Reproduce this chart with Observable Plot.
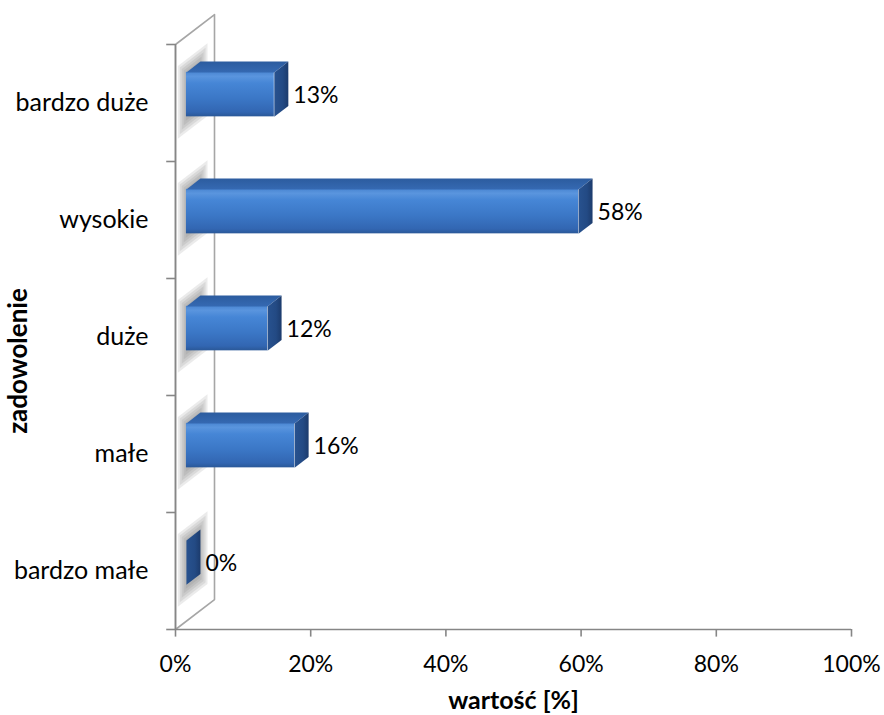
<!DOCTYPE html>
<html><head><meta charset="utf-8">
<script src="https://cdn.jsdelivr.net/npm/d3@7"></script>
<script src="https://cdn.jsdelivr.net/npm/@observablehq/plot@0.6"></script>
<style>html,body{margin:0;padding:0;background:#fff}</style>
</head><body><div id="chart"></div>
<script>
// categories bottom -> top
const categories = ["bardzo małe", "małe", "duże", "wysokie", "bardzo duże"];
const values = [0, 16, 12, 58, 13];
const xTicks = [0, 20, 40, 60, 80, 100];
const yTicks = [0, 1, 2, 3, 4, 5];
const xTitle = "wartość [%]";
const yTitle = "zadowolenie";

// oblique 3D projection (in data units)
const DX = 5.77, DY = 0.256;   // full depth offset
const D0 = 0.28, D1 = 0.64;    // bar front / back depth
const HALF = 0.19;             // half bar thickness
const P = (x, y, d, id) => ({x: x + d * DX, y: y + d * DY, id});

const bars = values.map((v, i) => ({v, c: i + 0.5, i}));
const front = bars.map(b => ({x1: D0 * DX, x2: b.v + D0 * DX, y1: b.c - HALF + D0 * DY, y2: b.c + HALF + D0 * DY}));
const topFace = bars.flatMap(b => [P(0, b.c + HALF, D0, b.i), P(b.v, b.c + HALF, D0, b.i), P(b.v, b.c + HALF, D1, b.i), P(0, b.c + HALF, D1, b.i)]);
const sideFace = bars.flatMap(b => [P(b.v, b.c - HALF, D0, b.i), P(b.v, b.c + HALF, D0, b.i), P(b.v, b.c + HALF, D1, b.i), P(b.v, b.c - HALF, D1, b.i)]);
// soft shadow on the side wall: stacked translucent layers
const layers = [0, 1, 2, 3, 4];
const shadow = bars.flatMap(b => layers.flatMap(k => {
  const e = k * 0.025, f = k * 0.05, id = b.i * 10 + k;
  return [P(0, b.c - 0.22 - e, 0.26 - f, id), P(0, b.c + 0.2 + e, 0.26 - f, id), P(0, b.c + 0.2 + e, 0.62 + f, id), P(0, b.c - 0.22 - e, 0.62 + f, id)];
}));
const wall = [P(0, 0, 0, 0), P(0, 5, 0, 0), P(0, 5, 1, 0), P(0, 0, 1, 0), P(0, 0, 0, 0)];

const FONT = "Lato, 'Open Sans', sans-serif";

const svg = Plot.plot({
  width: 884, height: 715,
  marginLeft: 175, marginRight: 33, marginTop: 44, marginBottom: 86,
  style: {fontFamily: FONT, fontSize: "23px", background: "#fff", color: "#000"},
  x: {domain: [0, 100], axis: null},
  y: {domain: [0, 5], axis: null},
  marks: [
    Plot.line(wall, {x: "x", y: "y", stroke: "#a6a6a6", strokeWidth: 1.6, fill: "none"}),
    Plot.line(shadow, {x: "x", y: "y", z: "id", fill: "#6e6e6e", fillOpacity: 0.14, stroke: "none"}),
    Plot.rect(front, {x1: "x1", x2: "x2", y1: "y1", y2: "y2", fill: "url(#gFront)"}),
    Plot.line(topFace, {x: "x", y: "y", z: "id", fill: "url(#gTop)", stroke: "none"}),
    Plot.line(sideFace, {x: "x", y: "y", z: "id", fill: "url(#gSide)", stroke: "none"}),
    // axes
    Plot.ruleX([0], {y1: 0, y2: 5, stroke: "#868686", strokeWidth: 1.6}),
    Plot.ruleY([0], {x1: 0, x2: 100, stroke: "#868686", strokeWidth: 1.6}),
    Plot.ruleY(yTicks, {y: d => d, x1: -1.3, x2: 0, stroke: "#868686", strokeWidth: 1.6}),
    Plot.ruleX(xTicks, {x: d => d, y1: 0, y2: -0.065, stroke: "#868686", strokeWidth: 1.6}),
    Plot.text(xTicks, {x: d => d, y: 0, dy: 35, text: d => `${d}%`, fill: "#000"}),
    Plot.text(categories, {x: 0, y: (d, i) => i + 0.5, dx: -27, text: d => d, textAnchor: "end", fontSize: 25, fill: "#000"}),
    Plot.text(values, {x: v => v + D1 * DX, y: (d, i) => i + 0.5 + D0 * DY, dx: 5, dy: 1, text: v => `${v}%`, textAnchor: "start", fill: "#000"}),
    Plot.text([xTitle], {frameAnchor: "bottom", dy: 71, text: d => d, textAnchor: "middle", lineAnchor: "middle", fontWeight: "bold", fontSize: 25, fill: "#000"}),
    Plot.text([yTitle], {frameAnchor: "left", dx: -157, dy: 24, rotate: -90, text: d => d, textAnchor: "middle", lineAnchor: "middle", fontWeight: "bold", fontSize: 26, fill: "#000"})
  ]
});

const s = d3.select(svg);
const defs = s.insert("defs", ":first-child");
const gf = defs.append("linearGradient").attr("id", "gFront").attr("x1", 0).attr("y1", 0).attr("x2", 0).attr("y2", 1);
[[0, "#4a86d2"], [0.1, "#5a95de"], [0.25, "#4686d6"], [0.6, "#3b77c6"], [0.9, "#3266b2"], [1, "#2a5898"]]
  .forEach(([o, c]) => gf.append("stop").attr("offset", o).attr("stop-color", c));
const gt = defs.append("linearGradient").attr("id", "gTop").attr("x1", 0).attr("y1", 0).attr("x2", 0).attr("y2", 1);
[[0, "#2c5c9f"], [1, "#3569b2"]].forEach(([o, c]) => gt.append("stop").attr("offset", o).attr("stop-color", c));
const gs = defs.append("linearGradient").attr("id", "gSide").attr("x1", 0).attr("y1", 0).attr("x2", 1).attr("y2", 0);
[[0, "#28528f"], [0.6, "#234a84"], [1, "#1c3b6c"]].forEach(([o, c]) => gs.append("stop").attr("offset", o).attr("stop-color", c));

document.getElementById("chart").appendChild(svg);
</script></body></html>
